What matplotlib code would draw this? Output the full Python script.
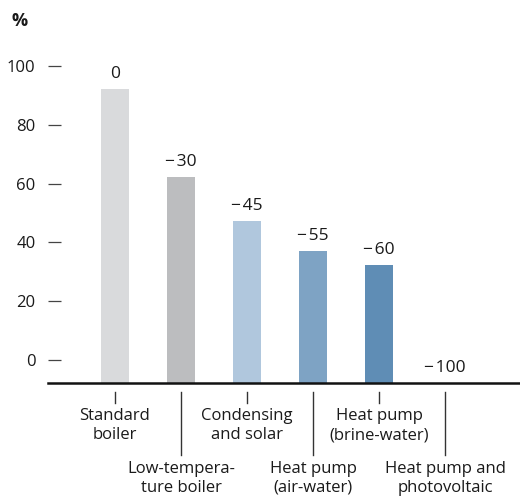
import matplotlib.pyplot as plt

plt.rcParams['font.family'] = ['Open Sans', 'DejaVu Sans']

# Energieverbrauch je Heizsystem, Standardkessel = 100 %
systeme = ["Standard\nboiler", "Low-tempera-\nture boiler", "Condensing\nand solar",
           "Heat pump\n(air-water)", "Heat pump\n(brine-water)", "Heat pump and\nphotovoltaic"]
einsparung = [0, -30, -45, -55, -60, -100]
farben = ["#d9dadc", "#bcbdbf", "#b0c7dd", "#7ea3c4", "#5f8db5", "#4a7aa5"]
y_ticks = [0, 20, 40, 60, 80, 100]

verbrauch = [100 + e for e in einsparung]

W, H = 520, 499
fig = plt.figure(figsize=(W / 100, H / 100), dpi=100)
ax = fig.add_axes([48 / W, 116 / H, 472 / W, 383 / H])

px = 2.94            # Pixel pro Prozentpunkt
versatz = 23 / px    # Skala beginnt etwas oberhalb der Grundlinie
ax.set_ylim(0, 383 / px)
ax.set_xlim(-67 / 66, -67 / 66 + 472 / 66)

x = list(range(len(systeme)))
ax.bar(x, verbrauch, width=0.41, color=farben, zorder=2)

for xi, v, e in zip(x, verbrauch, einsparung):
    txt = "0" if e == 0 else "\u2212\u200a" + str(abs(e))
    ax.annotate(txt, (xi, v), xytext=(0, 5), textcoords="offset points",
                ha="center", va="bottom", fontsize=12.5, color="#1a1a1a")

for s in ["left", "right", "top"]:
    ax.spines[s].set_visible(False)
ax.spines["bottom"].set_linewidth(1.8)
ax.spines["bottom"].set_color("#111111")

ax.set_yticks([t + versatz for t in y_ticks], [str(t) for t in y_ticks])
ax.tick_params(axis="y", direction="in", length=9, width=0.9, color="#444444",
               pad=9, labelsize=12, labelcolor="#1a1a1a")
ax.set_xticks([])

# Kategorien abwechselnd in zwei Reihen mit Verbindungsstrichen
trans = ax.get_xaxis_transform()
for i, name in enumerate(systeme):
    unten = 403 if i % 2 == 0 else 455
    ax.plot([i, i], [-9 / 383, -(unten - 383) / 383], transform=trans,
            color="#333333", lw=1, clip_on=False)
    oben = 408 if i % 2 == 0 else 461
    ax.text(i, -(oben - 383) / 383, name, transform=trans, ha="center", va="top",
            fontsize=12, linespacing=1.25, color="#1a1a1a")

fig.text(11 / W, 1 - 21 / H, "%", fontsize=13, fontweight="bold",
         va="center", ha="left", color="#1a1a1a")

fig.savefig("out.png", dpi=100)
